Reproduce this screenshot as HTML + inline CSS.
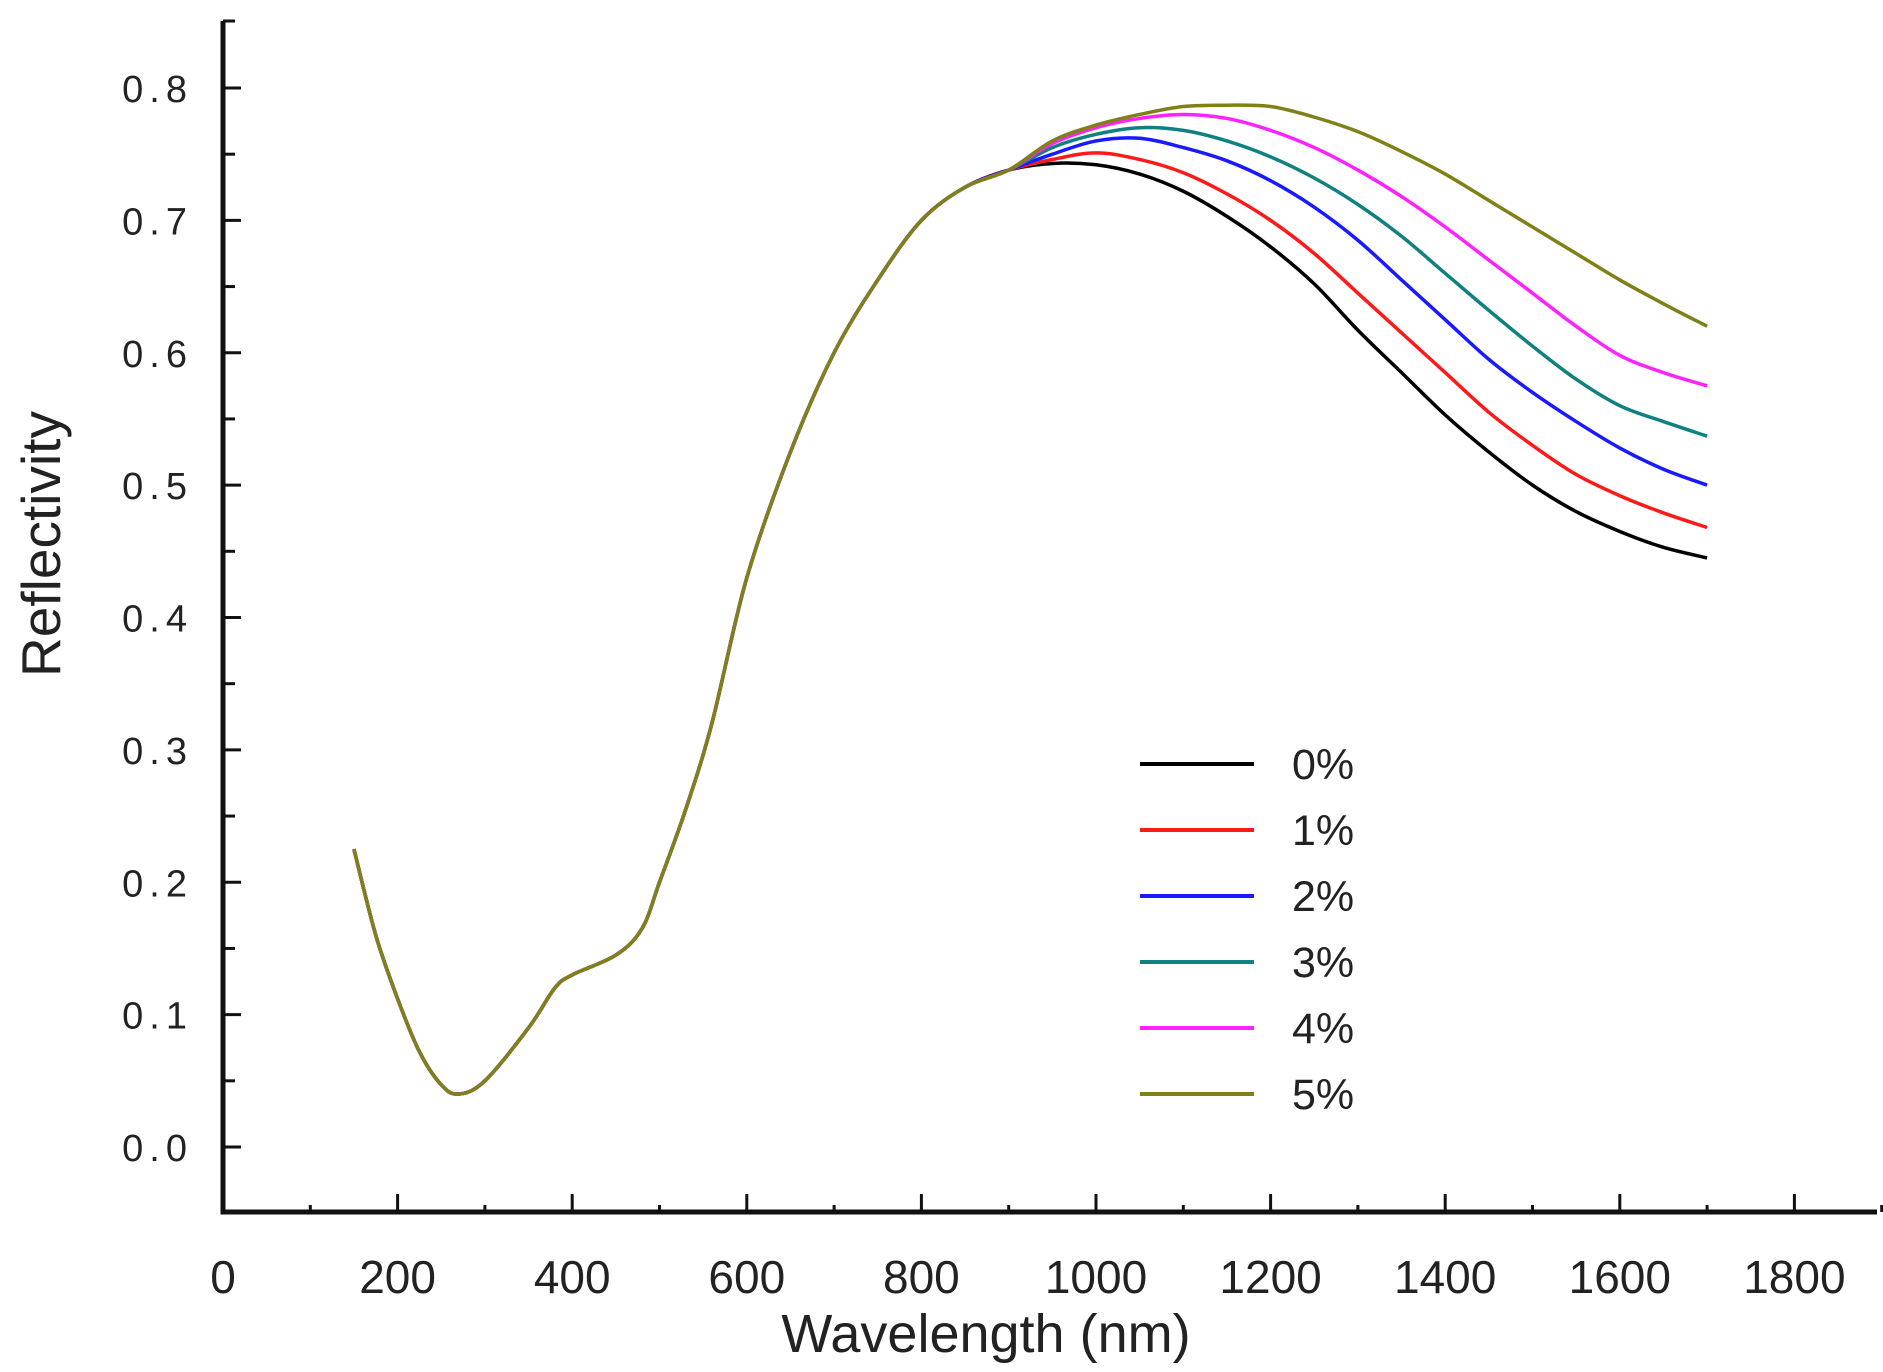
<!DOCTYPE html>
<html><head><meta charset="utf-8"><style>
html,body{margin:0;padding:0;background:#fff;}
svg{display:block;font-family:"Liberation Sans",sans-serif;}
</style></head><body>
<svg id="s" width="1883" height="1372" viewBox="0 0 1883 1372" xmlns="http://www.w3.org/2000/svg">
<rect width="1883" height="1372" fill="#fff"/>
<g id="ax" stroke="#111" fill="none"></g>
<g id="lab" fill="#222"></g>
<g id="curves" fill="none" stroke-width="3.5" stroke-linejoin="round"></g>
<text x="986" y="1352" font-size="54" text-anchor="middle" fill="#222">Wavelength (nm)</text>
<text transform="translate(60,544) rotate(-90)" font-size="55" text-anchor="middle" fill="#222">Reflectivity</text>
</svg>
<script>
var NS="http://www.w3.org/2000/svg";
function X(n){return 223+0.873*n;}function Y(r){return 1147-1323.75*r;}
function el(p,t,a,txt){var e=document.createElementNS(NS,t);for(var k in a)e.setAttribute(k,a[k]);if(txt!=null)e.textContent=txt;p.appendChild(e);return e;}
var ax=document.getElementById('ax'),lab=document.getElementById('lab'),cv=document.getElementById('curves');
el(ax,'path',{d:'M223,21 V1212 H1877','stroke-width':5});
el(ax,'path',{d:'M223,21 H235','stroke-width':3});
for(var i=0;i<=16;i++){var r=i*0.05;if(r>0.86)break;var y=Y(r);var maj=i%2==0;
el(ax,'path',{d:'M223,'+y+' H'+(maj?241:235),'stroke-width':3});
if(maj)el(lab,'text',{x:193,y:y+14,'font-size':38,'text-anchor':'end','letter-spacing':'6'},(r).toFixed(1));}
for(var n=0;n<=1900;n+=100){var x=X(n);var maj=n%200==0;
if(n>0)el(ax,'path',{d:'M'+x+',1212 V'+(maj?1194:1205),'stroke-width':3});
if(maj)el(lab,'text',{x:x,y:1293,'font-size':46,'text-anchor':'middle'},String(n));}
var shared=[[150,.225],[175,.16],[200,.112],[225,.072],[250,.047],[270,.04],[300,.05],[350,.09],[380,.12],[400,.13],[450,.145],[480,.165],[500,.2],[530,.255],[560,.32],[600,.43],[650,.525],[700,.6],[750,.655],[800,.70],[850,.725],[900,.738]];
var xs=[950,1000,1050,1100,1150,1200,1250,1300,1350,1400,1450,1500,1550,1600,1650,1700];
var S=[
['#000',[.743,.742,.735,.722,.703,.68,.652,.617,.585,.553,.525,.50,.48,.465,.453,.445]],
['#ff1a1a',[.746,.751,.746,.736,.72,.70,.675,.645,.615,.585,.555,.53,.508,.492,.479,.468]],
['#1a1aff',[.75,.76,.762,.755,.745,.73,.71,.685,.655,.625,.595,.57,.548,.528,.512,.5]],
['#108080',[.755,.765,.77,.768,.76,.748,.732,.712,.688,.66,.632,.605,.58,.56,.548,.537]],
['#ff22ff',[.758,.77,.777,.78,.777,.768,.755,.738,.718,.695,.67,.645,.62,.598,.585,.575]],
['#808018',[.76,.772,.78,.786,.787,.786,.778,.767,.752,.735,.715,.695,.675,.655,.637,.62]]];
function path(pts){var p=pts.map(function(a){return [X(a[0]),Y(a[1])];});var d='M'+p[0][0]+','+p[0][1];
for(var i=0;i<p.length-1;i++){var p0=p[i-1]||p[i],p1=p[i],p2=p[i+1],p3=p[i+2]||p2;
d+=' C'+(p1[0]+(p2[0]-p0[0])/6)+','+(p1[1]+(p2[1]-p0[1])/6)+' '+(p2[0]-(p3[0]-p1[0])/6)+','+(p2[1]-(p3[1]-p1[1])/6)+' '+p2[0]+','+p2[1];}return d;}
var names=['0%','1%','2%','3%','4%','5%'];
S.forEach(function(s,k){var pts=shared.concat(xs.map(function(x,j){return [x,s[1][j]];}));
el(cv,'path',{d:path(pts),stroke:s[0]});
var ly=764+k*66;el(cv,'path',{d:'M1140,'+ly+' H1254',stroke:s[0],'stroke-width':4});
el(lab,'text',{x:1292,y:ly+15,'font-size':43},names[k]);});
</script>
</body></html>
